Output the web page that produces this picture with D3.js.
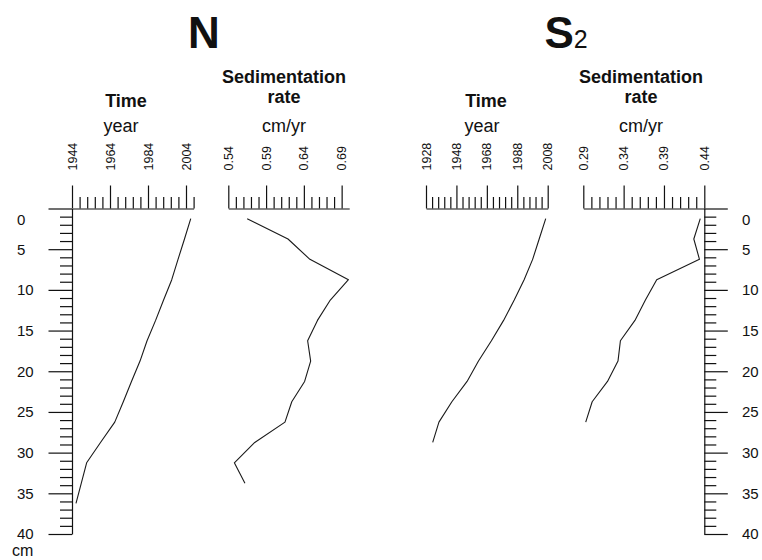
<!DOCTYPE html>
<html><head><meta charset="utf-8">
<script src="https://cdn.jsdelivr.net/npm/d3@7"></script>
<style>
body{margin:0;background:#fff;}
svg{display:block;font-family:"Liberation Sans",Arial,Helvetica,sans-serif;}
.ax path,.ax line{stroke:#111;stroke-width:1.2;}
</style></head><body>
<svg id="c" width="762" height="560"></svg>
<script>
// ---- data ----
const depthTicksMajor = [0,5,10,15,20,25,30,35,40];
const depthTicksMinor = d3.range(0,41,1);
const depthN = [1.25,3.75,6.25,8.75,11.25,13.75,16.25,18.75,21.25,23.75,26.25,28.75,31.25,33.75,36.25];
const timeN  = [2006.5,2003.2,1999.8,1996.5,1992.2,1988.0,1983.5,1979.8,1975.3,1971.0,1966.5,1959.0,1951.7,1948.9,1946.1];
const sedDepthN = [1.25,3.75,6.25,8.75,11.25,13.75,16.25,18.75,21.25,23.75,26.25,28.75,31.25,33.75];
const sedN = [0.565,0.619,0.648,0.699,0.675,0.658,0.645,0.649,0.641,0.624,0.615,0.575,0.548,0.562];
const depthS2 = [1.25,3.75,6.25,8.75,11.25,13.75,16.25,18.75,21.25,23.75,26.25,28.75];
const timeS2  = [2006.7,2002.4,1998.1,1992.5,1986.0,1979.0,1971.0,1962.5,1955.0,1945.0,1936.5,1932.4];
const sedDepthS2 = [1.25,3.75,6.25,8.75,11.25,13.75,16.25,18.75,21.25,23.75,26.25];
const sedS2 = [0.435,0.427,0.434,0.381,0.367,0.354,0.336,0.333,0.320,0.301,0.293];
const timeMajorN = [1944,1964,1984,2004];
const timeMinorN = d3.range(1944,2009,4);
const sedMajorN = [0.54,0.59,0.64,0.69];
const sedMinorN = d3.range(54,70,1).map(v=>v/100);
const timeMajorS2 = [1928,1948,1968,1988,2008];
const timeMinorS2 = d3.range(1928,2009,4);
const sedMajorS2 = [0.29,0.34,0.39,0.44];
const sedMinorS2 = d3.range(29,45,1).map(v=>v/100);

const svg = d3.select("#c");
const ink = "#111";

const y = d3.scaleLinear().domain([0,40]).range([208.5,534]);
const xTimeN = d3.scaleLinear().domain([1944,2008]).range([72,193.6]);
const xSedN = d3.scaleLinear().domain([0.54,0.70]).range([228.3,349.2]);
const xTimeS = d3.scaleLinear().domain([1928,2008]).range([426,547.7]);
const xSedS = d3.scaleLinear().domain([0.29,0.44]).range([583.3,704.3]);
const axisY = 208.5;

const notIn = (arr, major) => arr.filter(v => !major.some(m => Math.abs(m - v) < 1e-6));

function topAxis(x, minor, major, fmt){
  const g = svg.append("g").attr("class","ax").attr("transform",`translate(0,${axisY})`);
  g.call(d3.axisTop(x).tickValues(notIn(minor, major)).tickSize(11.5).tickSizeOuter(0).tickFormat(""));
  const g2 = svg.append("g").attr("class","ax").attr("transform",`translate(0,${axisY})`);
  g2.call(d3.axisTop(x).tickValues(major).tickSize(23).tickSizeOuter(0).tickFormat(""));
  g2.select(".domain").remove();
  svg.append("g").selectAll("text").data(major).join("text")
    .attr("transform",d=>`translate(${x(d)},170.5) rotate(-90)`)
    .attr("dy","0.36em").attr("text-anchor","start")
    .attr("font-size",12.5).attr("fill",ink).text(fmt);
}
topAxis(xTimeN, timeMinorN, timeMajorN, d=>d);
topAxis(xSedN, sedMinorN, sedMajorN, d3.format(".2f"));
topAxis(xTimeS, timeMinorS2, timeMajorS2, d=>d);
topAxis(xSedS, sedMinorS2, sedMajorS2, d3.format(".2f"));

function depthAxis(xpos, right){
  const mk = right ? d3.axisRight : d3.axisLeft;
  const g = svg.append("g").attr("class","ax").attr("transform",`translate(${xpos},0)`);
  g.call(mk(y).tickValues(notIn(depthTicksMinor, depthTicksMajor)).tickSize(12).tickSizeOuter(0).tickFormat(""));
  const g2 = svg.append("g").attr("class","ax").attr("transform",`translate(${xpos},0)`);
  g2.call(mk(y).tickValues(depthTicksMajor).tickSize(23.5).tickSizeOuter(0).tickFormat(""));
  g2.select(".domain").remove();
  svg.append("g").selectAll("text").data(depthTicksMajor).join("text")
    .attr("x", right ? 742 : 17)
    .attr("y", d => d===0 ? y(d)+11 : y(d))
    .attr("dy","0.36em").attr("text-anchor","start")
    .attr("font-size",15).attr("fill",ink).text(d=>d);
}
depthAxis(72,false);
depthAxis(704.3,true);
svg.append("text").attr("x",12).attr("y",556).attr("font-size",16).attr("fill",ink).text("cm");

// headers
function header(cx1, cx2, yearX){
  svg.append("text").attr("x",cx1).attr("y",106.5).attr("text-anchor","middle")
    .attr("font-size",18).attr("font-weight","bold").attr("fill",ink).text("Time");
  svg.append("text").attr("x",yearX).attr("y",132).attr("text-anchor","middle")
    .attr("font-size",18).attr("fill",ink).text("year");
  svg.append("text").attr("x",cx2).attr("y",82.5).attr("text-anchor","middle")
    .attr("font-size",18).attr("font-weight","bold").attr("fill",ink).text("Sedimentation");
  svg.append("text").attr("x",cx2).attr("y",103).attr("text-anchor","middle")
    .attr("font-size",18).attr("font-weight","bold").attr("fill",ink).text("rate");
  svg.append("text").attr("x",cx2).attr("y",132).attr("text-anchor","middle")
    .attr("font-size",18).attr("fill",ink).text("cm/yr");
}
header(126,284,121);
header(486,641,482);

svg.append("text").attr("x",204).attr("y",48).attr("text-anchor","middle")
  .attr("font-size",44).attr("font-weight","bold").attr("fill",ink).text("N");
const t2 = svg.append("text").attr("x",544.5).attr("y",48).attr("fill",ink);
t2.append("tspan").attr("font-size",44).attr("font-weight","bold").text("S");
t2.append("tspan").attr("font-size",25).attr("dx",0).text("2");

// lines
function series(xs, ys, xScale){
  const pts = xs.map((v,i)=>[xScale(v), y(ys[i])]);
  svg.append("path").attr("d", d3.line()(pts)).attr("fill","none")
    .attr("stroke","#1a1a1a").attr("stroke-width",1.1).attr("stroke-linejoin","round");
}
series(timeN, depthN, xTimeN);
series(sedN, sedDepthN, xSedN);
series(timeS2, depthS2, xTimeS);
series(sedS2, sedDepthS2, xSedS);
</script></body></html>
